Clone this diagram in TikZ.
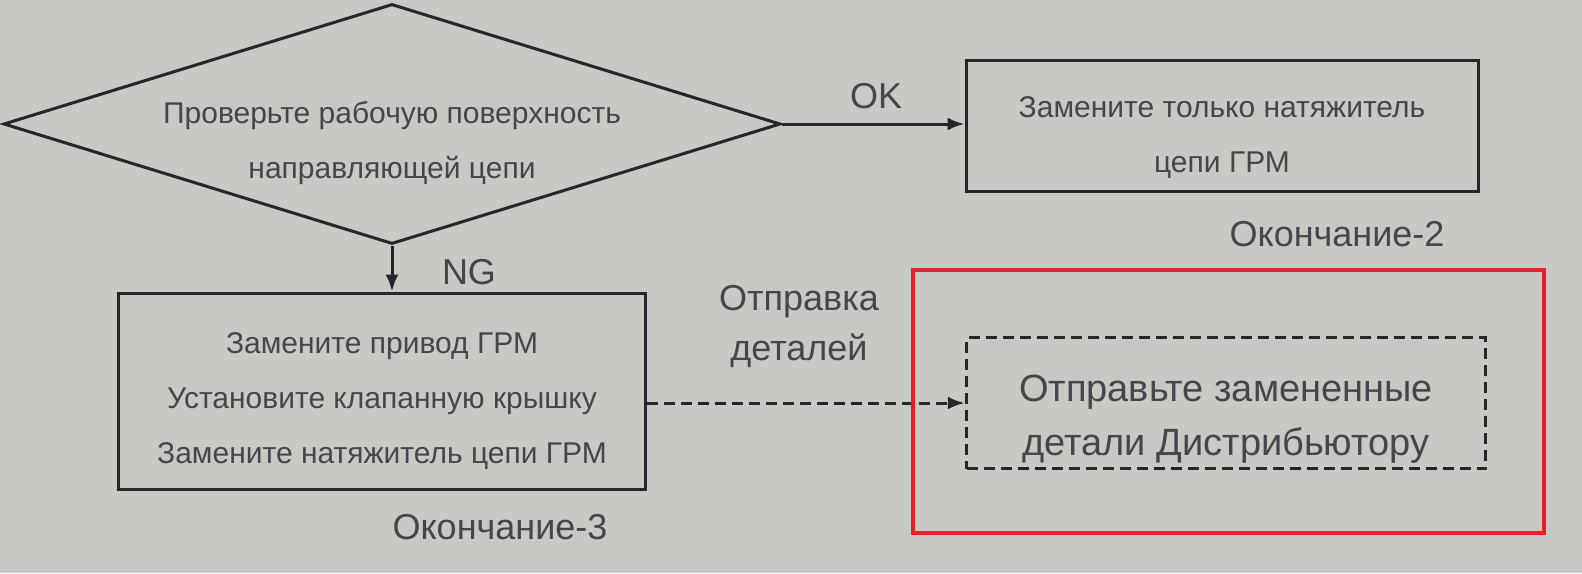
\documentclass[tikz,border=0pt]{standalone}
\usepackage{fontspec}
\setmainfont{Liberation Sans}
\usetikzlibrary{shapes.geometric,arrows.meta}

\definecolor{paper}{RGB}{200,201,197}
\definecolor{ink}{RGB}{40,36,42}
\definecolor{print}{RGB}{70,70,74}
\definecolor{redframe}{RGB}{228,32,42}

\begin{document}
\begin{tikzpicture}[
  x=1pt, y=-1pt,
  blk/.style={draw=ink, line width=3pt, inner sep=0pt},
  txt/.style={inner sep=0pt, text=print, align=center, font=\fontsize{30}{55}\selectfont},
  dec/.style={draw=ink, line width=3pt, shape=diamond, inner sep=0pt},
  lbl/.style={inner sep=0pt, text=print, align=center, font=\fontsize{36}{50}\selectfont},
  flow/.style={draw=ink, line width=3pt, -{Latex[length=17pt,width=13pt]}},
  dsh/.style={dash pattern=on 11pt off 6pt},
]

\fill [paper] (0,0) rectangle (1582,573);
\useasboundingbox (0,0) rectangle (1582,573);

% decision
\node [dec, minimum width=777pt, minimum height=240pt] (check) at (392,124) {};
\node [txt] (checktext) at ([yshift=-19pt]check.center)
  {Проверьте рабочую поверхность\\направляющей цепи};

% results
\node [blk, minimum width=512pt, minimum height=131pt] (tens) at (1222,126) {};
\node [txt] (tenstext) at ([yshift=-12pt]tens.center)
  {Замените только натяжитель\\цепи ГРМ};
\node [blk, minimum width=527pt, minimum height=196pt] (fix) at (382,391) {};
\node [txt] (fixtext) at ([yshift=-10pt]fix.center)
  {Замените привод ГРМ\\Установите клапанную крышку\\Замените натяжитель цепи ГРМ};
\node [blk, dsh, line width=3.5pt, minimum width=519pt, minimum height=131pt] (send) at (1226,403) {};
\node [txt, font=\fontsize{38}{54}\selectfont] (sendtext) at ([yshift=-16pt]send.center)
  {Отправьте замененные\\детали Дистрибьютору};

\draw [flow] (check.east) -- (check.east -| tens.west);
\draw [flow] (check.south) -- (check.south |- fix.north);
\draw [flow, dsh] (fix.east |- send.west) -- (send.west);

\node [lbl] (ok) at (876,96) {OK};
\node [lbl] (ng) at (469,272) {NG};
\node [lbl] (ship) at (799,327) {Отправка\\деталей};
\node [lbl] (end2) at (1337,234) {Окончание-2};
\node [lbl] (end3) at (500,527) {Окончание-3};

\draw [redframe, line width=4pt] (913,270) rectangle (1544,533);

\end{tikzpicture}
\end{document}
